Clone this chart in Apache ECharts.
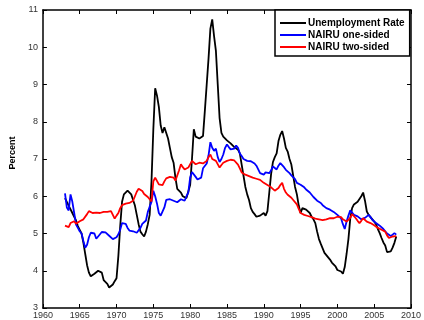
<!DOCTYPE html>
<html>
<head>
<meta charset="utf-8">
<script src="https://cdn.jsdelivr.net/npm/echarts@6/dist/echarts.min.js"></script>
<style>html,body{margin:0;padding:0;background:#fff;}#c{width:424px;height:320px;}</style>
</head>
<body>
<div id="c"></div>
<script>
// Quarterly observations, first quarter 1963 through first quarter 2008
var startYear = 1963;
var seriesNames = ['Unemployment Rate', 'NAIRU one-sided', 'NAIRU two-sided'];
var xTicks = [1960, 1965, 1970, 1975, 1980, 1985, 1990, 1995, 2000, 2005, 2010];
var yTicks = [3, 4, 5, 6, 7, 8, 9, 10, 11];

var unemployment = [
  5.95, 5.85, 5.75, 5.70,  // 1963
  5.55, 5.45, 5.35, 5.20,  // 1964
  5.10, 5.00, 4.75, 4.45,  // 1965
  4.15, 3.95, 3.85, 3.82,  // 1966
  3.92, 3.95, 4.00, 4.05,  // 1967
  3.95, 3.75, 3.70, 3.65,  // 1968
  3.55, 3.55, 3.63, 3.72,  // 1969
  3.80, 4.40, 5.20, 5.85,  // 1970
  6.05, 6.10, 6.15, 6.10,  // 1971
  6.05, 5.90, 5.75, 5.50,  // 1972
  5.25, 5.05, 4.98, 4.92,  // 1973
  5.05, 5.25, 5.50, 6.40,  // 1974
  7.80, 8.90, 8.70, 8.40,  // 1975
  7.90, 7.70, 7.85, 7.85,  // 1976
  7.55, 7.30, 7.05, 6.90,  // 1977
  6.50, 6.20, 6.15, 6.10,  // 1978
  6.00, 5.95, 5.95, 6.00,  // 1979
  6.30, 7.00, 7.80, 7.60,  // 1980
  7.55, 7.55, 7.60, 7.62,  // 1981
  8.30, 9.00, 9.70, 10.50, // 1982
  10.75, 10.30, 9.90, 9.00, // 1983
  8.10, 7.70, 7.60, 7.55,  // 1984
  7.50, 7.45, 7.42, 7.38,  // 1985
  7.32, 7.34, 7.25, 7.15,  // 1986
  6.85, 6.55, 6.25, 6.05,  // 1987
  5.90, 5.68, 5.58, 5.52,  // 1988
  5.45, 5.42, 5.48, 5.52,  // 1989
  5.55, 5.48, 5.60, 6.10,  // 1990
  6.60, 6.92, 7.05, 7.15,  // 1991
  7.48, 7.65, 7.75, 7.55,  // 1992
  7.30, 7.20, 7.00, 6.85,  // 1993
  6.55, 6.25, 6.05, 5.75,  // 1994
  5.55, 5.68, 5.66, 5.64,  // 1995
  5.60, 5.55, 5.45, 5.38,  // 1996
  5.28, 5.05, 4.85, 4.72,  // 1997
  4.60, 4.48, 4.42, 4.37,  // 1998
  4.30, 4.22, 4.18, 4.12,  // 1999
  4.02, 4.00, 3.98, 3.92,  // 2000
  4.10, 4.45, 4.85, 5.40,  // 2001
  5.68, 5.78, 5.82, 5.85,  // 2002
  5.90, 6.00, 6.10, 5.88,  // 2003
  5.59, 5.50, 5.44, 5.38,  // 2004
  5.32, 5.25, 5.12, 5.01,  // 2005
  4.88, 4.76, 4.68, 4.50,  // 2006
  4.45, 4.52, 4.62, 4.75,  // 2007
  4.92                     // 2008
];

var nairuOne = [
  6.08, 5.70, 5.62, 6.05,  // 1963
  5.85, 5.55, 5.24, 5.15,  // 1964
  5.06, 5.00, 4.80, 4.62,  // 1965
  4.70, 4.90, 5.02, 5.06,  // 1966
  5.00, 4.86, 4.86, 4.98,  // 1967
  5.04, 5.02, 5.03, 5.00,  // 1968
  4.94, 4.90, 4.85, 4.82,  // 1969
  4.90, 4.98, 5.10, 5.28,  // 1970
  5.28, 5.26, 5.15, 5.08,  // 1971
  5.08, 5.06, 5.04, 5.02,  // 1972
  4.99, 5.15, 5.26, 5.26,  // 1973
  5.35, 5.58, 5.72, 5.85,  // 1974
  6.15, 6.00, 5.80, 5.55,  // 1975
  5.48, 5.44, 5.70, 5.90,  // 1976
  5.95, 5.92, 5.88, 5.88,  // 1977
  5.88, 5.84, 5.86, 5.92,  // 1978
  5.90, 5.88, 6.00, 6.10,  // 1979
  6.50, 6.65, 6.65, 6.52,  // 1980
  6.45, 6.42, 6.50, 6.75,  // 1981
  6.80, 6.88, 7.10, 7.45,  // 1982
  7.30, 7.22, 7.28, 7.05,  // 1983
  6.92, 7.00, 7.12, 7.30,  // 1984
  7.39, 7.32, 7.26, 7.26,  // 1985
  7.28, 7.36, 7.30, 7.15,  // 1986
  7.08, 7.00, 6.97, 6.95,  // 1987
  6.94, 6.94, 6.94, 6.88,  // 1988
  6.82, 6.72, 6.62, 6.60,  // 1989
  6.58, 6.64, 6.67, 6.62,  // 1990
  6.70, 6.80, 6.76, 6.72,  // 1991
  6.82, 6.89, 6.86, 6.78,  // 1992
  6.71, 6.66, 6.62, 6.56,  // 1993
  6.52, 6.46, 6.36, 6.33,  // 1994
  6.31, 6.30, 6.24, 6.18,  // 1995
  6.14, 6.10, 6.08, 5.98,  // 1996
  5.94, 5.88, 5.86, 5.82,  // 1997
  5.76, 5.71, 5.68, 5.66,  // 1998
  5.64, 5.62, 5.58, 5.55,  // 1999
  5.50, 5.45, 5.41, 5.25,  // 2000
  5.12, 5.32, 5.48, 5.62,  // 2001
  5.62, 5.50, 5.48, 5.46,  // 2002
  5.44, 5.38, 5.40, 5.42,  // 2003
  5.46, 5.50, 5.44, 5.37,  // 2004
  5.32, 5.28, 5.24, 5.21,  // 2005
  5.18, 5.12, 5.06, 5.00,  // 2006
  4.96, 4.93, 4.96, 5.01,  // 2007
  4.97                     // 2008
];

var nairuTwo = [
  5.21, 5.19, 5.17, 5.28,  // 1963
  5.33, 5.33, 5.26, 5.28,  // 1964
  5.33, 5.36, 5.38, 5.42,  // 1965
  5.52, 5.60, 5.56, 5.55,  // 1966
  5.60, 5.56, 5.51, 5.55,  // 1967
  5.60, 5.58, 5.57, 5.58,  // 1968
  5.60, 5.60, 5.56, 5.40,  // 1969
  5.48, 5.55, 5.68, 5.76,  // 1970
  5.80, 5.80, 5.82, 5.82,  // 1971
  5.82, 5.88, 6.00, 6.12,  // 1972
  6.20, 6.22, 6.14, 6.06,  // 1973
  6.04, 5.98, 5.92, 5.86,  // 1974
  6.40, 6.50, 6.50, 6.32,  // 1975
  6.30, 6.30, 6.40, 6.48,  // 1976
  6.50, 6.52, 6.54, 6.50,  // 1977
  6.42, 6.46, 6.70, 6.86,  // 1978
  6.78, 6.72, 6.74, 6.77,  // 1979
  6.80, 6.95, 6.90, 6.86,  // 1980
  6.88, 6.90, 6.86, 6.88,  // 1981
  6.90, 6.95, 7.05, 7.12,  // 1982
  7.00, 6.98, 6.95, 6.90,  // 1983
  6.77, 6.84, 6.90, 6.93,  // 1984
  6.95, 6.96, 6.98, 6.95,  // 1985
  6.96, 6.98, 6.85, 6.75,  // 1986
  6.64, 6.60, 6.58, 6.56,  // 1987
  6.54, 6.52, 6.50, 6.49,  // 1988
  6.47, 6.45, 6.44, 6.40,  // 1989
  6.36, 6.33, 6.30, 6.27,  // 1990
  6.24, 6.20, 6.15, 6.18,  // 1991
  6.22, 6.30, 6.36, 6.20,  // 1992
  6.10, 6.04, 6.00, 5.96,  // 1993
  5.90, 5.86, 5.78, 5.66,  // 1994
  5.55, 5.52, 5.50, 5.48,  // 1995
  5.47, 5.46, 5.44, 5.41,  // 1996
  5.40, 5.39, 5.38, 5.37,  // 1997
  5.36, 5.36, 5.38, 5.40,  // 1998
  5.41, 5.41, 5.41, 5.43,  // 1999
  5.45, 5.46, 5.44, 5.38,  // 2000
  5.34, 5.32, 5.34, 5.42,  // 2001
  5.52, 5.48, 5.41, 5.34,  // 2002
  5.28, 5.34, 5.41, 5.38,  // 2003
  5.32, 5.30, 5.28, 5.26,  // 2004
  5.22, 5.19, 5.15, 5.12,  // 2005
  5.10, 5.07, 5.05, 4.95,  // 2006
  4.88, 4.88, 4.92, 4.97,  // 2007
  4.93                     // 2008
];

function toPairs(arr) {
  return arr.map(function (v, i) { return [startYear + i / 4, v]; });
}

var chart = echarts.init(document.getElementById('c'), null, { renderer: 'canvas' });
var axisFont = { fontFamily: 'Liberation Sans, Arial, sans-serif', fontSize: 9, color: '#333' };
var lineStyleAxis = { color: '#000', width: 1.5 };

function xAx(pos, showLabel) {
  return {
    type: 'value', position: pos, min: xTicks[0], max: xTicks[xTicks.length - 1], interval: 5,
    axisLine: { show: true, onZero: false, lineStyle: lineStyleAxis },
    axisTick: { show: true, inside: true, length: 4, lineStyle: { color: '#000', width: 1 } },
    axisLabel: Object.assign({ show: showLabel, margin: 3, formatter: function (v) { return String(v); } }, axisFont),
    splitLine: { show: false }
  };
}
function yAx(pos, showLabel) {
  return {
    type: 'value', position: pos, min: yTicks[0], max: yTicks[yTicks.length - 1], interval: 1,
    axisLine: { show: true, onZero: false, lineStyle: lineStyleAxis },
    axisTick: { show: true, inside: true, length: 4, lineStyle: { color: '#000', width: 1 } },
    axisLabel: Object.assign({ show: showLabel, margin: 5 }, axisFont),
    splitLine: { show: false },
    name: showLabel ? 'Percent' : '',
    nameLocation: 'middle', nameGap: 18, nameRotate: 90,
    nameTextStyle: { fontFamily: 'Liberation Sans, Arial, sans-serif', fontSize: 9, fontWeight: 'bold', color: '#000', padding: [0, 0, 0, 12] }
  };
}

var colors = ['#000000', '#0000ff', '#ff0000'];
var datasets = [unemployment, nairuOne, nairuTwo];

chart.setOption({
  animation: false,
  backgroundColor: '#fff',
  grid: { left: 34, right: 10, top: 10, bottom: 11, containLabel: false },
  xAxis: [xAx('bottom', true), xAx('top', false)],
  yAxis: [yAx('left', true), yAx('right', false)],
  legend: {
    left: 275, top: 10, orient: 'vertical',
    backgroundColor: '#fff', borderColor: '#000', borderWidth: 1.5,
    padding: [7, 5, 3, 5], itemGap: 0, itemWidth: 26, itemHeight: 2, itemStyle: { borderWidth: 0 },
    icon: 'rect',
    textStyle: { fontFamily: 'Liberation Sans, Arial, sans-serif', fontSize: 10, fontWeight: 'bold', color: '#000', lineHeight: 12, padding: [0, 0, 0, -3] },
    data: seriesNames
  },
  series: seriesNames.map(function (n, k) {
    return {
      name: n, type: 'line', xAxisIndex: 0, yAxisIndex: 0,
      data: toPairs(datasets[k]), showSymbol: false, symbol: 'none',
      lineStyle: { color: colors[k], width: 1.8 }, itemStyle: { color: colors[k] },
      z: 2 + k
    };
  })
});
</script>
</body>
</html>
